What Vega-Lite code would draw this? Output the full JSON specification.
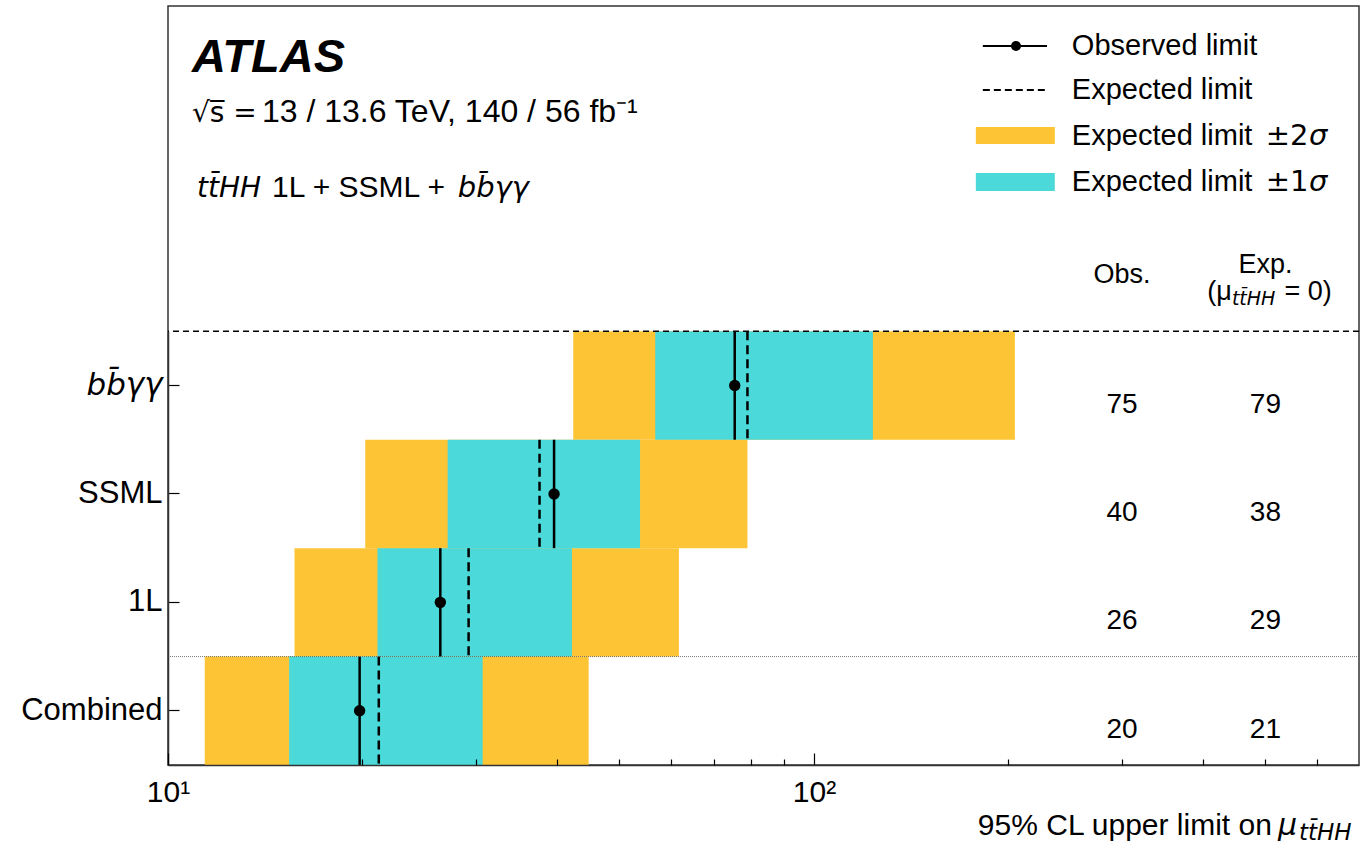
{
  "$schema": "https://vega.github.io/schema/vega-lite/v6.json",
  "width": 1191,
  "height": 759,
  "autosize": "none",
  "padding": {"left": 168, "top": 6, "right": 1, "bottom": 80},
  "background": "white",
  "config": {
    "view": {"stroke": "#333333", "strokeWidth": 1.5},
    "font": "Liberation Sans",
    "text": {"font": "Liberation Sans", "color": "black"}
  },
  "datasets": {
    "limits": [
      {"channel": "bb̄γγ", "obs": 75.4, "exp": 78.9, "m2": 42.4, "m1": 56.8, "p1": 123.4, "p2": 204.7},
      {"channel": "SSML", "obs": 39.6, "exp": 37.6, "m2": 20.2, "m1": 27.1, "p1": 53.8, "p2": 78.9},
      {"channel": "1L", "obs": 26.4, "exp": 29.2, "m2": 15.7, "m1": 21.1, "p1": 42.2, "p2": 61.8},
      {"channel": "Combined", "obs": 19.8, "exp": 21.2, "m2": 11.4, "m1": 15.4, "p1": 30.7, "p2": 44.8}
    ]
  },
  "layer": [
    {
      "data": {"name": "limits"},
      "encoding": {
        "y": {
          "field": "channel",
          "type": "nominal",
          "scale": {"type": "band", "domain": ["bb̄γγ", "SSML", "1L", "Combined"], "range": [325.3, 759], "paddingInner": 0, "paddingOuter": 0},
          "axis": {
            "orient": "left",
            "title": null,
            "grid": false,
            "labelFontSize": 31,
            "labelColor": "black",
            "labelFont": {"condition": {"test": "datum.value == 'bb̄γγ'", "value": "DejaVu Sans"}, "value": "Liberation Sans"},
            "labelFontStyle": {"condition": {"test": "datum.value == 'bb̄γγ'", "value": "italic"}, "value": "normal"},
            "tickSize": -11,
            "tickColor": "black",
            "tickWidth": 1.2,
            "domainColor": "#333333",
            "domainWidth": 1.5,
            "labelPadding": 17
          }
        }
      },
      "layer": [
        {
          "mark": {"type": "rect", "color": "#FDC536"},
          "encoding": {
            "x": {"field": "m2", "type": "quantitative", "scale": {"type": "log", "domain": [10, 698], "nice": false}, "axis": null},
            "x2": {"field": "p2"}
          }
        },
        {
          "mark": {"type": "rect", "color": "#4BD9D9"},
          "encoding": {
            "x": {"field": "m1", "type": "quantitative", "scale": {"type": "log", "domain": [10, 698], "nice": false}, "axis": null},
            "x2": {"field": "p1"}
          }
        },
        {
          "mark": {"type": "rule", "color": "black", "strokeWidth": 2.5, "strokeDash": [9, 5], "yOffset": -54.2, "y2Offset": 54.2},
          "encoding": {
            "x": {"field": "exp", "type": "quantitative", "scale": {"type": "log", "domain": [10, 698], "nice": false}, "axis": null},
            "y2": {"field": "channel"}
          }
        },
        {
          "mark": {"type": "rule", "color": "black", "strokeWidth": 2.5, "yOffset": -54.2, "y2Offset": 54.2},
          "encoding": {
            "x": {"field": "obs", "type": "quantitative", "scale": {"type": "log", "domain": [10, 698], "nice": false}, "axis": null},
            "y2": {"field": "channel"}
          }
        },
        {
          "mark": {"type": "point", "filled": true, "color": "black", "opacity": 1, "size": 130},
          "encoding": {
            "x": {"field": "obs", "type": "quantitative", "scale": {"type": "log", "domain": [10, 698], "nice": false}, "axis": null}
          }
        },
        {
          "mark": {"type": "text", "fontSize": 28, "align": "center", "baseline": "middle", "dy": 19},
          "encoding": {
            "x": {"datum": 300, "type": "quantitative", "scale": {"type": "log", "domain": [10, 698], "nice": false}, "axis": null},
            "text": {"field": "obs", "type": "quantitative", "format": ".0f"}
          }
        },
        {
          "mark": {"type": "text", "fontSize": 28, "align": "center", "baseline": "middle", "dy": 19},
          "encoding": {
            "x": {"datum": 500, "type": "quantitative", "scale": {"type": "log", "domain": [10, 698], "nice": false}, "axis": null},
            "text": {"field": "exp", "type": "quantitative", "format": ".0f"}
          }
        }
      ]
    },
    {
      "data": {"values": [{}]},
      "layer": [
        {
          "mark": {"type": "rule", "color": "black", "strokeWidth": 1.5, "strokeDash": [6, 4]},
          "encoding": {
            "y": {"datum": 3.5, "type": "quantitative", "scale": {"domain": [-0.5, 6.5], "nice": false, "zero": false}, "axis": null}
          }
        },
        {
          "mark": {"type": "rule", "color": "#555555", "strokeWidth": 0.8, "strokeDash": [1, 1]},
          "encoding": {"y": {"datum": 0.5, "type": "quantitative", "scale": {"domain": [-0.5, 6.5], "nice": false, "zero": false}, "axis": null}}
        },
        {
          "mark": {"type": "text", "fontSize": 47, "fontWeight": "bold", "fontStyle": "italic", "align": "left", "baseline": "alphabetic"},
          "encoding": {
            "x": {"datum": 10.89, "type": "quantitative", "axis": null},
            "y": {"datum": 5.891, "type": "quantitative", "axis": null},
            "text": {"value": "ATLAS"}
          }
        },
        {
          "mark": {"type": "text", "fontSize": 28, "font": "DejaVu Sans", "align": "left", "baseline": "alphabetic"},
          "encoding": {
            "x": {"datum": 10.89, "type": "quantitative", "axis": null},
            "y": {"datum": 5.43, "type": "quantitative", "axis": null},
            "text": {"value": "√s̅ ="}
          }
        },
        {
          "mark": {"type": "text", "fontSize": 32, "align": "left", "baseline": "alphabetic"},
          "encoding": {
            "x": {"datum": 13.98, "type": "quantitative", "axis": null},
            "y": {"datum": 5.43, "type": "quantitative", "axis": null},
            "text": {"value": "13 / 13.6 TeV, 140 / 56 fb⁻¹"}
          }
        },
        {
          "mark": {"type": "text", "fontSize": 28, "font": "DejaVu Sans", "fontStyle": "italic", "align": "left", "baseline": "alphabetic"},
          "encoding": {
            "x": {"datum": 11.09, "type": "quantitative", "axis": null},
            "y": {"datum": 4.738, "type": "quantitative", "axis": null},
            "text": {"value": "tt̄HH"}
          }
        },
        {
          "mark": {"type": "text", "fontSize": 30, "align": "left", "baseline": "alphabetic"},
          "encoding": {
            "x": {"datum": 14.49, "type": "quantitative", "axis": null},
            "y": {"datum": 4.738, "type": "quantitative", "axis": null},
            "text": {"value": "1L + SSML +"}
          }
        },
        {
          "mark": {"type": "text", "fontSize": 29, "font": "DejaVu Sans", "fontStyle": "italic", "align": "left", "baseline": "alphabetic"},
          "encoding": {
            "x": {"datum": 28.1, "type": "quantitative", "axis": null},
            "y": {"datum": 4.738, "type": "quantitative", "axis": null},
            "text": {"value": "bb̄γγ"}
          }
        },
        {
          "mark": {"type": "rule", "color": "black", "strokeWidth": 2},
          "encoding": {
            "x": {"datum": 182.6, "type": "quantitative", "axis": null},
            "x2": {"datum": 229.5},
            "y": {"datum": 6.131, "type": "quantitative", "axis": null}
          }
        },
        {
          "mark": {"type": "point", "filled": true, "color": "black", "opacity": 1, "size": 100},
          "encoding": {
            "x": {"datum": 205.5, "type": "quantitative", "axis": null},
            "y": {"datum": 6.131, "type": "quantitative", "axis": null}
          }
        },
        {
          "mark": {"type": "rule", "color": "black", "strokeWidth": 2, "strokeDash": [7, 4]},
          "encoding": {
            "x": {"datum": 182.6, "type": "quantitative", "axis": null},
            "x2": {"datum": 229.5},
            "y": {"datum": 5.725, "type": "quantitative", "axis": null}
          }
        },
        {
          "mark": {"type": "rect", "color": "#FDC536"},
          "encoding": {
            "x": {"datum": 178.1, "type": "quantitative", "axis": null},
            "x2": {"datum": 236},
            "y": {"datum": 5.227, "type": "quantitative", "axis": null},
            "y2": {"datum": 5.384}
          }
        },
        {
          "mark": {"type": "rect", "color": "#4BD9D9"},
          "encoding": {
            "x": {"datum": 178.1, "type": "quantitative", "axis": null},
            "x2": {"datum": 236},
            "y": {"datum": 4.794, "type": "quantitative", "axis": null},
            "y2": {"datum": 4.96}
          }
        },
        {
          "mark": {"type": "text", "fontSize": 29, "align": "left", "baseline": "middle"},
          "encoding": {
            "x": {"datum": 250.8, "type": "quantitative", "axis": null},
            "y": {"datum": 6.131, "type": "quantitative", "axis": null},
            "text": {"value": "Observed limit"}
          }
        },
        {
          "mark": {"type": "text", "fontSize": 29, "align": "left", "baseline": "middle"},
          "encoding": {
            "x": {"datum": 250.8, "type": "quantitative", "axis": null},
            "y": {"datum": 5.725, "type": "quantitative", "axis": null},
            "text": {"value": "Expected limit"}
          }
        },
        {
          "mark": {"type": "text", "fontSize": 29, "align": "left", "baseline": "middle"},
          "encoding": {
            "x": {"datum": 250.8, "type": "quantitative", "axis": null},
            "y": {"datum": 5.301, "type": "quantitative", "axis": null},
            "text": {"value": "Expected limit"}
          }
        },
        {
          "mark": {"type": "text", "fontSize": 29, "font": "DejaVu Sans", "align": "left", "baseline": "middle"},
          "encoding": {
            "x": {"datum": 500.7, "type": "quantitative", "axis": null},
            "y": {"datum": 5.301, "type": "quantitative", "axis": null},
            "text": {"value": "±2"}
          }
        },
        {
          "mark": {"type": "text", "fontSize": 29, "font": "DejaVu Sans", "fontStyle": "italic", "align": "left", "baseline": "middle"},
          "encoding": {
            "x": {"datum": 583.9, "type": "quantitative", "axis": null},
            "y": {"datum": 5.301, "type": "quantitative", "axis": null},
            "text": {"value": "σ"}
          }
        },
        {
          "mark": {"type": "text", "fontSize": 29, "align": "left", "baseline": "middle"},
          "encoding": {
            "x": {"datum": 250.8, "type": "quantitative", "axis": null},
            "y": {"datum": 4.877, "type": "quantitative", "axis": null},
            "text": {"value": "Expected limit"}
          }
        },
        {
          "mark": {"type": "text", "fontSize": 29, "font": "DejaVu Sans", "align": "left", "baseline": "middle"},
          "encoding": {
            "x": {"datum": 500.7, "type": "quantitative", "axis": null},
            "y": {"datum": 4.877, "type": "quantitative", "axis": null},
            "text": {"value": "±1"}
          }
        },
        {
          "mark": {"type": "text", "fontSize": 29, "font": "DejaVu Sans", "fontStyle": "italic", "align": "left", "baseline": "middle"},
          "encoding": {
            "x": {"datum": 583.9, "type": "quantitative", "axis": null},
            "y": {"datum": 4.877, "type": "quantitative", "axis": null},
            "text": {"value": "σ"}
          }
        },
        {
          "mark": {"type": "text", "fontSize": 27, "align": "center", "baseline": "middle"},
          "encoding": {
            "x": {"datum": 300, "type": "quantitative", "axis": null},
            "y": {"datum": 4.019, "type": "quantitative", "axis": null},
            "text": {"value": "Obs."}
          }
        },
        {
          "mark": {"type": "text", "fontSize": 27, "align": "center", "baseline": "middle"},
          "encoding": {
            "x": {"datum": 500, "type": "quantitative", "axis": null},
            "y": {"datum": 4.111, "type": "quantitative", "axis": null},
            "text": {"value": "Exp."}
          }
        },
        {
          "mark": {"type": "text", "fontSize": 27, "align": "right", "baseline": "middle"},
          "encoding": {
            "x": {"datum": 443.7, "type": "quantitative", "axis": null},
            "y": {"datum": 3.862, "type": "quantitative", "axis": null},
            "text": {"value": "(μ"}
          }
        },
        {
          "mark": {"type": "text", "fontSize": 19, "font": "DejaVu Sans", "fontStyle": "italic", "align": "left", "baseline": "middle"},
          "encoding": {
            "x": {"datum": 443.7, "type": "quantitative", "axis": null},
            "y": {"datum": 3.798, "type": "quantitative", "axis": null},
            "text": {"value": "tt̄HH"}
          }
        },
        {
          "mark": {"type": "text", "fontSize": 27, "align": "left", "baseline": "middle"},
          "encoding": {
            "x": {"datum": 535, "type": "quantitative", "axis": null},
            "y": {"datum": 3.862, "type": "quantitative", "axis": null},
            "text": {"value": "= 0)"}
          }
        },
        {
          "mark": {"type": "text", "fontSize": 30, "align": "right", "baseline": "alphabetic"},
          "encoding": {
            "x": {"datum": 511.7, "type": "quantitative", "axis": null},
            "y": {"datum": -1.146, "type": "quantitative", "axis": null},
            "text": {"value": "95% CL upper limit on"}
          }
        },
        {
          "mark": {"type": "text", "fontSize": 30, "font": "DejaVu Sans", "fontStyle": "italic", "align": "left", "baseline": "alphabetic"},
          "encoding": {
            "x": {"datum": 523, "type": "quantitative", "axis": null},
            "y": {"datum": -1.146, "type": "quantitative", "axis": null},
            "text": {"value": "μ"}
          }
        },
        {
          "mark": {"type": "text", "fontSize": 23, "font": "DejaVu Sans", "fontStyle": "italic", "align": "left", "baseline": "alphabetic"},
          "encoding": {
            "x": {"datum": 563.5, "type": "quantitative", "axis": null},
            "y": {"datum": -1.19, "type": "quantitative", "axis": null},
            "text": {"value": "tt̄HH"}
          }
        }
      ]
    },
    {
      "data": {"name": "limits"},
      "layer": [
        {
          "mark": {"type": "point", "opacity": 0},
          "encoding": {
            "x": {
              "field": "obs",
              "type": "quantitative",
              "scale": {"type": "log", "domain": [10, 698], "nice": false},
              "axis": {
                "orient": "bottom",
                "zindex": 2,
                "values": [10, 100],
                "labelExpr": "datum.value == 10 ? '10¹' : '10²'",
                "tickSize": -12,
                "tickColor": "black",
                "tickWidth": 1.2,
                "domainColor": "#333333",
                "domainWidth": 1.5,
                "labelFontSize": 30,
                "labelColor": "black",
                "labelPadding": 24,
                "labelOverlap": false,
                "labelFlush": false,
                "labelBound": false,
                "grid": false,
                "title": null
              }
            }
          }
        },
        {
          "mark": {"type": "point", "opacity": 0},
          "encoding": {
            "x": {
              "field": "exp",
              "type": "quantitative",
              "scale": {"type": "log", "domain": [10, 698], "nice": false},
              "axis": {
                "orient": "bottom",
                "zindex": 2,
                "values": [20, 30, 40, 50, 60, 70, 80, 90, 200, 300, 400, 500, 600],
                "labels": false,
                "domain": false,
                "tickSize": -6,
                "tickColor": "black",
                "tickWidth": 1.2,
                "grid": false,
                "title": null
              }
            }
          }
        }
      ],
      "resolve": {"axis": {"x": "independent"}}
    }
  ],
  "resolve": {"scale": {"y": "independent"}, "axis": {"x": "independent", "y": "independent"}}
}
